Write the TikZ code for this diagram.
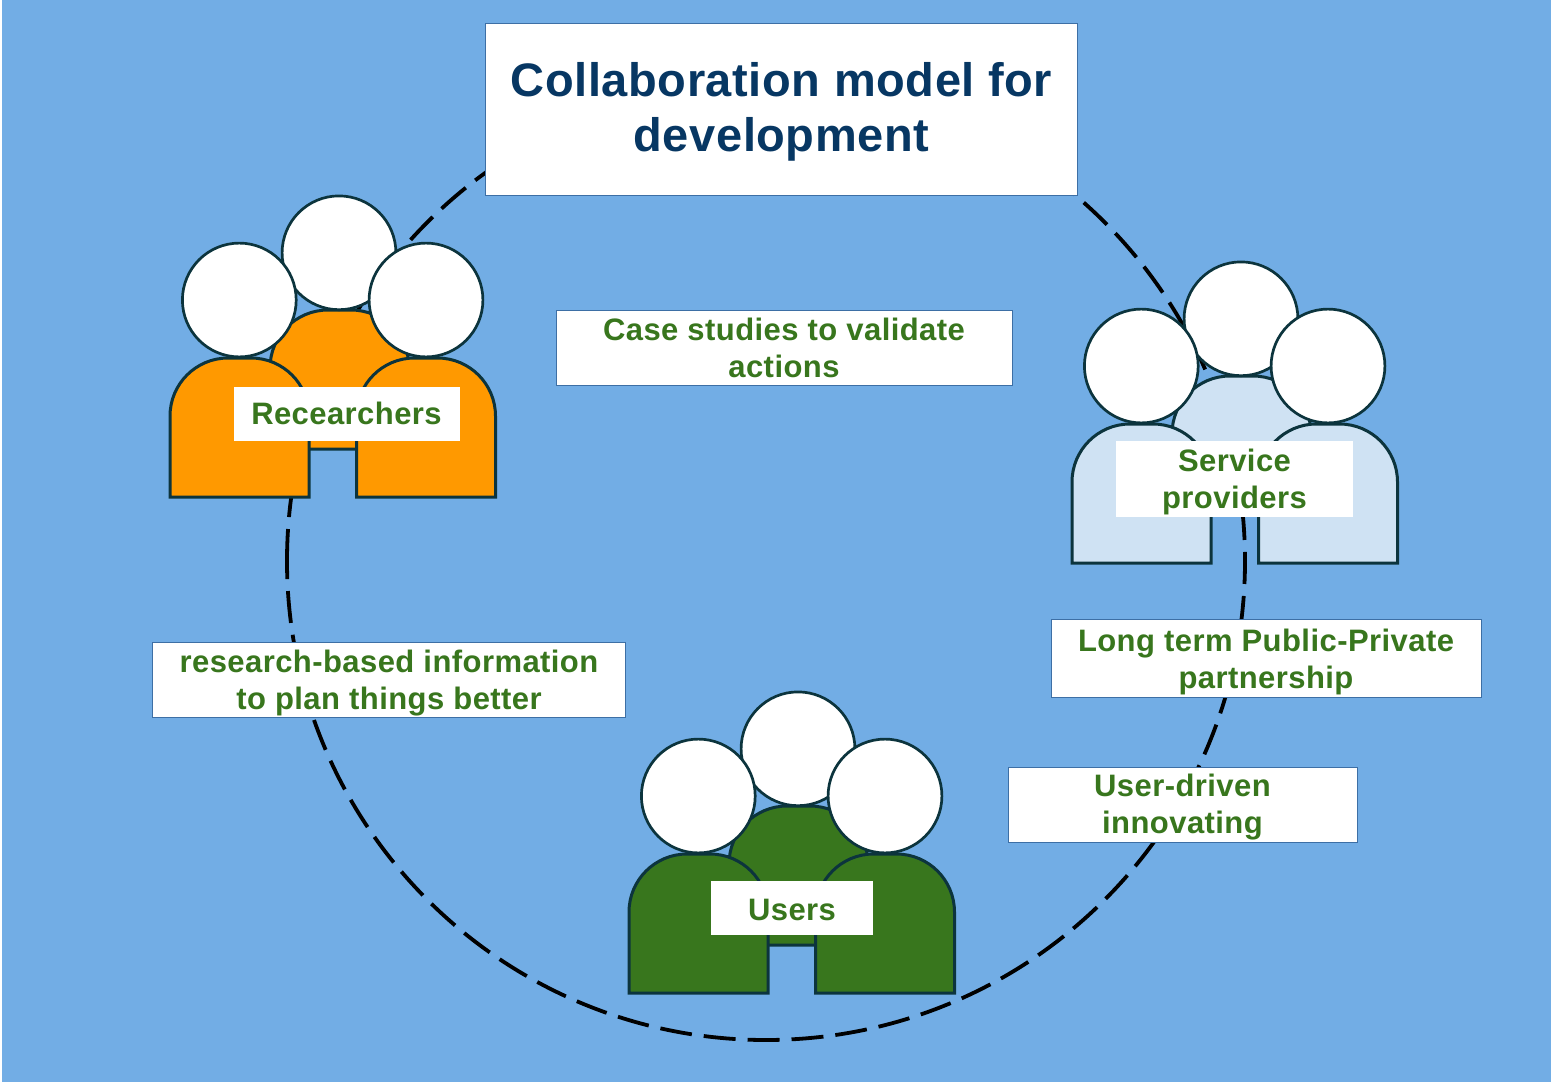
\documentclass[tikz,border=0pt]{standalone}
\usepackage{fontspec}
\setmainfont{Liberation Sans}
\newfontfamily\labelfam[LetterSpace=1.4]{Liberation Sans}
\newfontfamily\titlefam[LetterSpace=1.2]{Liberation Sans}
\definecolor{bgblue}{HTML}{72ADE5}
\definecolor{edgeteal}{HTML}{0C343D}
\definecolor{txtgreen}{HTML}{38761D}
\definecolor{titleblue}{HTML}{073763}
\definecolor{boxedge}{HTML}{3D6FA5}
\definecolor{orangefill}{HTML}{FF9900}
\definecolor{paleblue}{HTML}{CFE2F3}
\tikzset{
  x=1pt,y=-1pt,
  head/.style={draw=edgeteal,fill=white,line width=2.7pt},
  torso/.style={draw=edgeteal,line width=3pt,line join=miter},
  labelbox/.style={draw=boxedge,line width=0.8pt,fill=white,text=txtgreen,align=center,inner sep=0pt,
    font=\fontsize{31}{37}\labelfam\bfseries},
  namebox/.style={fill=white,text=txtgreen,align=center,inner sep=0pt,
    font=\fontsize{31}{37}\labelfam\bfseries},
  titlebox/.style={draw=boxedge,line width=0.8pt,fill=white,text=titleblue,align=center,inner sep=0pt,
    font=\fontsize{47}{55}\titlefam\bfseries},
  ring/.style={draw=black,line width=3.8pt,dash pattern=on 32pt off 12pt},
}
\newcommand{\persontorso}[3]{% x of left edge, y top, colour
  \draw[torso,fill=#3] (#1,#2+139) -- (#1,#2+58)
    .. controls (#1,#2+26) and (#1+26,#2) .. (#1+58,#2)
    -- (#1+81,#2)
    .. controls (#1+113,#2) and (#1+139,#2+26) .. (#1+139,#2+58)
    -- (#1+139,#2+139) -- cycle;
}
\newcommand{\crowd}[3]{% dx, dy, colour
  \begin{scope}[shift={(#1,#2)}]
    \persontorso{270}{310}{#3}
    \draw[head] (339,252.8) circle[radius=56.9];
    \persontorso{170}{358}{#3}
    \draw[head] (239.3,300) circle[radius=56.9];
    \persontorso{356.5}{358}{#3}
    \draw[head] (426,300) circle[radius=56.9];
  \end{scope}
}
\newcommand{\upsp}[1]{\rule{0pt}{#1pt}}
\newcommand{\dnsp}[1]{\rule[-#1pt]{0pt}{#1pt}}
\begin{document}
\begin{tikzpicture}
\useasboundingbox (0,0) rectangle (1553,1082);
\fill[white] (0,0) rectangle (1553,1082);
\fill[bgblue] (2,0) rectangle (1551,1082);
\draw[ring] (287,561) arc[start angle=180,end angle=540,radius=479];
\crowd{0}{0}{orangefill}
\crowd{902}{66}{paleblue}
\crowd{459}{496}{txtgreen}
\node[titlebox,minimum width=592,minimum height=172] (title) at (781.5,109) {\upsp{39}Collaboration model for\\development};
\node[labelbox,minimum width=456,minimum height=75] (cases) at (784,348) {Case studies to validate\\actions};
\node[labelbox,minimum width=473,minimum height=75] (research) at (389,680) {\upsp{29}research-based information\\to plan things better};
\node[labelbox,minimum width=430,minimum height=78] (longterm) at (1266,658.5) {\upsp{29}Long term Public-Private\\partnership};
\node[labelbox,minimum width=349,minimum height=75] (driven) at (1182.5,804.5) {\upsp{28}User-driven\\innovating};
\node[namebox,minimum width=226,minimum height=54] (researchers) at (346.5,414) {Recearchers\dnsp{2}};
\node[namebox,minimum width=237,minimum height=76] (providers) at (1234.5,479) {\upsp{29}Service\\providers};
\node[namebox,minimum width=162,minimum height=54] (users) at (792,908) {\upsp{25}Users};
\end{tikzpicture}
\end{document}
